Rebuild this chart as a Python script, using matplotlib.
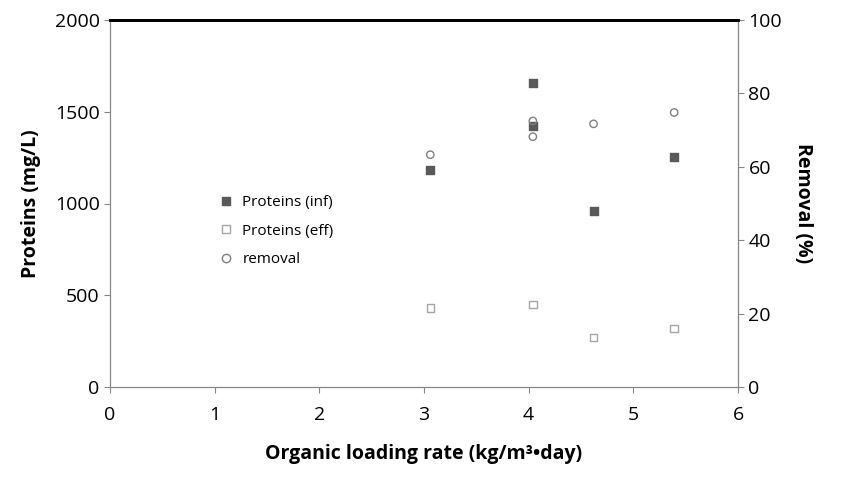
import matplotlib
matplotlib.use("Agg")
import matplotlib.pyplot as plt
from matplotlib.lines import Line2D

plt.rcParams['font.family'] = ['Open Sans', 'DejaVu Sans']

x_inf = [3.06, 4.04, 4.04, 4.62, 5.39]
inf = [1185, 1655, 1420, 960, 1255]
x_eff = [3.06, 4.04, 4.62, 5.39]
eff = [430, 450, 270, 320]
x_rem = [3.06, 4.04, 4.04, 4.62, 5.39]
rem = [63.3, 72.5, 68.2, 71.7, 74.8]

fig = plt.figure(figsize=(8.56, 4.97), dpi=100)
ax = fig.add_axes([110/856, 1-387/497, 628/856, 367/497])
ax2 = ax.twinx()
ax.scatter(x_inf, inf, marker='s', s=28, color='#595959', zorder=3)
ax.scatter(x_eff, eff, marker='s', s=28, facecolor='none', edgecolor='#a6a6a6', zorder=3)
ax2.scatter(x_rem, rem, marker='o', s=28, facecolor='none', edgecolor='#7f7f7f', zorder=3)

ax.set_xlim(0, 6); ax.set_ylim(0, 2000)
ax2.set_ylim(0, 100)
ax.set_xticks(range(7)); ax.set_yticks(range(0, 2001, 500))
ax2.set_yticks(range(0, 101, 20))
for a in (ax, ax2):
    for s in a.spines.values():
        s.set_color('#868686')
    a.spines['top'].set_color('black'); a.spines['top'].set_linewidth(2)
    a.tick_params(labelsize=14, color='#868686', direction='out', length=4)
ax.tick_params(axis='x', pad=10)
ax.set_xlabel('Organic loading rate (kg/m³•day)', fontsize=14, fontweight='bold', labelpad=14)
ax.set_ylabel('Proteins (mg/L)', fontsize=14, fontweight='bold', labelpad=10)
ax2.set_ylabel('Removal (%)', fontsize=14, fontweight='bold', rotation=270, labelpad=22)

handles = [Line2D([], [], ls='none', marker='s', color='#595959', ms=6),
           Line2D([], [], ls='none', marker='s', mfc='none', mec='#a6a6a6', ms=6),
           Line2D([], [], ls='none', marker='o', mfc='none', mec='#7f7f7f', ms=6)]
ax.legend(handles, ['Proteins (inf)', 'Proteins (eff)', 'removal'], loc='upper left',
          bbox_to_anchor=(0.15, 0.54), frameon=False, fontsize=11, handletextpad=0.1,
          borderaxespad=0, labelspacing=0.9)
fig.savefig('out.png', dpi=100)
